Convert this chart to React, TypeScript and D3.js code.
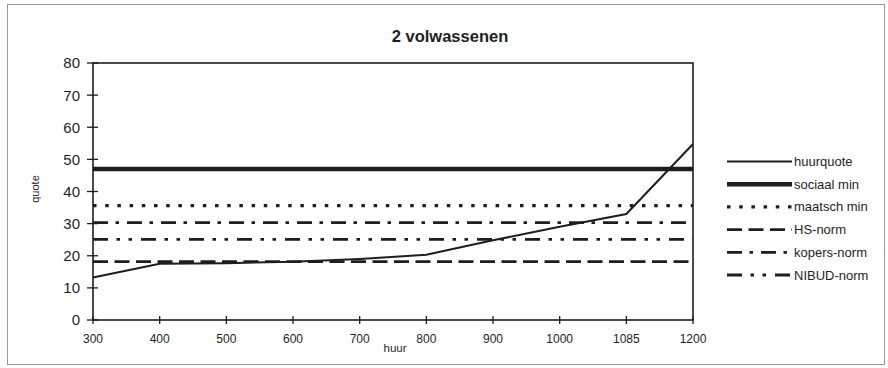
import React, { useEffect, useRef } from "react";
import * as d3 from "d3";

// Rent levels (categorical axis) and the housing-cost ratio per level
const huurCategories = ["300", "400", "500", "600", "700", "800", "900", "1000", "1085", "1200"];
const huurquoteValues = [13.2, 17.5, 17.7, 18.1, 19.0, 20.3, 24.8, 29.0, 33.0, 54.8];

// Constant reference norms
const normNames = ["sociaal min", "maatsch min", "HS-norm", "kopers-norm", "NIBUD-norm"];
const normValues = [47, 35.6, 18.2, 30.3, 25.1];

const yTicks = [0, 10, 20, 30, 40, 50, 60, 70, 80];

const W = 888;
const H = 368;
const margin = { left: 93, right: 195, top: 63, bottom: 48 };
const ink = "#1e1e1e";
const font = "Liberation Sans, Arial, sans-serif";

type Style = { width: number; dash: string | null };
const styles: Record<string, Style> = {
  huurquote: { width: 2, dash: null },
  "sociaal min": { width: 4.5, dash: null },
  "maatsch min": { width: 3.2, dash: "3.5,8.7" },
  "HS-norm": { width: 2.8, dash: "15,6.5" },
  "kopers-norm": { width: 2.8, dash: "15,7.5,3.5,8" },
  "NIBUD-norm": { width: 2.8, dash: "15,8.5,3.5,8.5,3.5,9" },
};

export default function App() {
  const ref = useRef<SVGSVGElement | null>(null);

  useEffect(() => {
    document.body.style.margin = "0";
    const svg = d3.select(ref.current);
    svg.selectAll("*").remove();

    const x = d3
      .scalePoint<string>()
      .domain(huurCategories)
      .range([margin.left, W - margin.right]);
    const y = d3
      .scaleLinear()
      .domain([0, 80])
      .range([H - margin.bottom, margin.top]);

    // outer frame
    svg
      .append("rect")
      .attr("x", 7.5)
      .attr("y", 4.5)
      .attr("width", 877)
      .attr("height", 360)
      .attr("fill", "#fff")
      .attr("stroke", "#999")
      .attr("stroke-width", 1);

    // title
    svg
      .append("text")
      .attr("x", 450)
      .attr("y", 42)
      .attr("text-anchor", "middle")
      .attr("font-family", font)
      .attr("font-weight", "bold")
      .attr("font-size", 16.5)
      .attr("fill", ink)
      .text("2 volwassenen");

    const x0 = x(huurCategories[0])!;
    const x1 = x(huurCategories[huurCategories.length - 1])!;

    // norm lines
    normNames.forEach((name, i) => {
      const s = styles[name];
      svg
        .append("line")
        .attr("x1", x0)
        .attr("x2", x1)
        .attr("y1", y(normValues[i]))
        .attr("y2", y(normValues[i]))
        .attr("stroke", ink)
        .attr("stroke-width", s.width)
        .attr("stroke-dasharray", s.dash);
    });

    // huurquote series
    const line = d3
      .line<number>()
      .x((_, i) => x(huurCategories[i])!)
      .y((d) => y(d));
    svg
      .append("path")
      .attr("d", line(huurquoteValues))
      .attr("fill", "none")
      .attr("stroke", ink)
      .attr("stroke-width", styles.huurquote.width)
      .attr("stroke-linejoin", "miter");

    // plot frame
    svg
      .append("rect")
      .attr("x", x0)
      .attr("y", y(80))
      .attr("width", x1 - x0)
      .attr("height", y(0) - y(80))
      .attr("fill", "none")
      .attr("stroke", ink)
      .attr("stroke-width", 1.6);

    // y axis ticks and labels
    const yg = svg.append("g");
    yTicks.forEach((t) => {
      yg.append("line")
        .attr("x1", x0 - 6)
        .attr("x2", x0 + 5)
        .attr("y1", y(t))
        .attr("y2", y(t))
        .attr("stroke", ink)
        .attr("stroke-width", 1.3);
      yg.append("text")
        .attr("x", 80)
        .attr("y", y(t))
        .attr("dy", "0.36em")
        .attr("text-anchor", "end")
        .attr("font-family", font)
        .attr("font-size", 15)
        .attr("fill", ink)
        .text(String(t));
    });

    // x axis ticks and labels
    const xg = svg.append("g");
    huurCategories.forEach((c) => {
      xg.append("line")
        .attr("x1", x(c)!)
        .attr("x2", x(c)!)
        .attr("y1", y(0) - 4)
        .attr("y2", y(0) + 4)
        .attr("stroke", ink)
        .attr("stroke-width", 1.3);
      xg.append("text")
        .attr("x", x(c)!)
        .attr("y", 343)
        .attr("text-anchor", "middle")
        .attr("font-family", font)
        .attr("font-size", 12)
        .attr("fill", ink)
        .text(c);
    });

    // axis titles
    svg
      .append("text")
      .attr("x", 395)
      .attr("y", 352)
      .attr("text-anchor", "middle")
      .attr("font-family", font)
      .attr("font-size", 11.5)
      .attr("fill", ink)
      .text("huur");
    svg
      .append("text")
      .attr("transform", `translate(39,189) rotate(-90)`)
      .attr("text-anchor", "middle")
      .attr("font-family", font)
      .attr("font-size", 11)
      .attr("fill", ink)
      .text("quote");

    // legend
    const legendNames = ["huurquote", ...normNames];
    const lg = svg.append("g");
    legendNames.forEach((name, i) => {
      const ly = 161.5 + i * 22.7;
      const s = styles[name];
      lg.append("line")
        .attr("x1", 727)
        .attr("x2", 792)
        .attr("y1", ly)
        .attr("y2", ly)
        .attr("stroke", ink)
        .attr("stroke-width", s.width)
        .attr("stroke-dasharray", s.dash);
      lg.append("text")
        .attr("x", 794)
        .attr("y", ly)
        .attr("dy", "0.35em")
        .attr("font-family", font)
        .attr("font-size", 13)
        .attr("fill", ink)
        .text(name);
    });
  }, []);

  return <svg ref={ref} width={W} height={H} style={{ display: "block" }} />;
}
